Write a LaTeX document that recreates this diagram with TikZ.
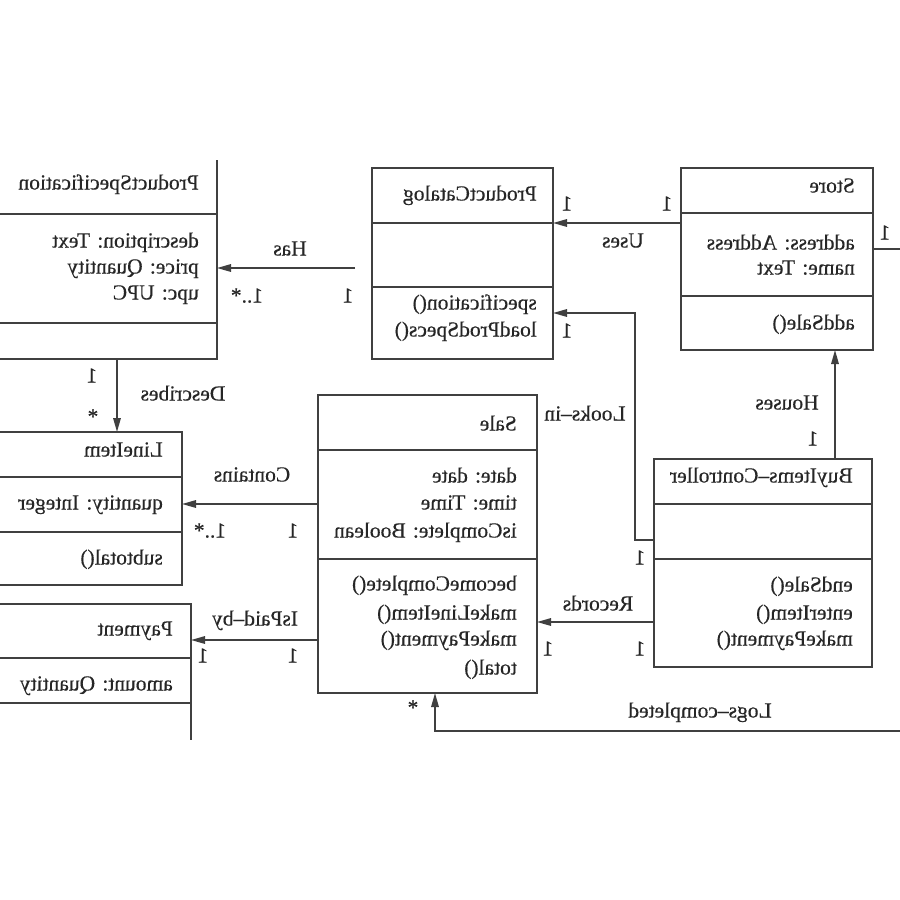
\documentclass[tikz,border=0pt]{standalone}
\usepackage{fontspec}
\usepackage{graphicx}
\setmainfont[FakeBold=0.35]{Liberation Serif}
\usetikzlibrary{arrows.meta}
\newcommand{\rv}[1]{\reflectbox{#1}}
\begin{document}
\begin{tikzpicture}[x=1pt,y=-1pt,
  box/.style={draw=black!75, line width=1.6pt},
  assoc/.style={draw=black!75, line width=1.6pt, -{Triangle[length=14pt,width=7.5pt]}},
  plain/.style={draw=black!75, line width=1.6pt},
  txt/.style={inner sep=0pt, text=black!85, font=\fontsize{21.5}{27}\selectfont,
              text height=0.7em, text depth=0.2em},
  cls/.style={txt, anchor=east},
  lab/.style={txt, anchor=center}]
\clip (0,0) rectangle (900,900);
\fill[white] (0,0) rectangle (900,900);

% ---- ProductSpecification
\draw[box] (-5,214) -- (217,214);
\draw[box] (-5,323) -- (217,323);
\draw[box] (-5,359) -- (217,359) -- (217,160);
\node[cls] (ps) at (199,187) {\rv{ProductSpecification}};
\node[cls] (ps1) at (199,245) {\rv{description: Text}};
\node[cls] (ps2) at (199,271) {\rv{price: Quantity}};
\node[cls] (ps3) at (199,297) {\rv{upc: UPC}};

% ---- ProductCatalog
\draw[box] (372,168) rectangle (553,359);
\draw[box] (372,223) -- (553,223);
\draw[box] (372,287) -- (553,287);
\node[cls] (pc) at (537,198) {\rv{ProductCatalog}};
\node[cls] (pc1) at (537,307) {\rv{specification()}};
\node[cls] (pc2) at (537,334) {\rv{loadProdSpecs()}};

% ---- Store
\draw[box] (681,168) rectangle (873,350);
\draw[box] (681,213) -- (873,213);
\draw[box] (681,296) -- (873,296);
\node[cls] (st) at (855,190) {\rv{Store}};
\node[cls] (st1) at (855,247) {\rv{address: Address}};
\node[cls] (st2) at (855,272) {\rv{name: Text}};
\node[cls] (st3) at (855,327) {\rv{addSale()}};

% ---- Sale
\draw[box] (318,395) rectangle (537,693);
\draw[box] (318,450) -- (537,450);
\draw[box] (318,559) -- (537,559);
\node[cls] (sa) at (517,428) {\rv{Sale}};
\node[cls] (sa1) at (517,480) {\rv{date: date}};
\node[cls] (sa2) at (517,507) {\rv{time: Time}};
\node[cls] (sa3) at (517,535) {\rv{isComplete: Boolean}};
\node[cls] (sa4) at (517,588) {\rv{becomeComplete()}};
\node[cls] (sa5) at (517,617) {\rv{makeLineItem()}};
\node[cls] (sa6) at (517,643) {\rv{makePayment()}};
\node[cls] (sa7) at (517,672) {\rv{total()}};

% ---- BuyItems-Controller
\draw[box] (654,459) rectangle (872,667);
\draw[box] (654,504) -- (872,504);
\draw[box] (654,559) -- (872,559);
\node[cls] (bc) at (853,480) {\rv{BuyItems--Controller}};
\node[cls] (bc1) at (853,589) {\rv{endSale()}};
\node[cls] (bc2) at (853,617) {\rv{enterItem()}};
\node[cls] (bc3) at (853,643) {\rv{makePayment()}};

% ---- LineItem
\draw[box] (-5,432) -- (182,432) -- (182,585) -- (-5,585);
\draw[box] (-5,477) -- (182,477);
\draw[box] (-5,532) -- (182,532);
\node[cls] (li) at (163,454) {\rv{LineItem}};
\node[cls] (li1) at (163,507) {\rv{quantity: Integer}};
\node[cls] (li2) at (163,562) {\rv{subtotal()}};

% ---- Payment
\draw[box] (-5,604) -- (191,604) -- (191,740);
\draw[box] (-5,658) -- (191,658);
\draw[box] (-5,703) -- (191,703);
\node[cls] (pa) at (173,633) {\rv{Payment}};
\node[cls] (pa1) at (173,688) {\rv{amount: Quantity}};

% ---- connector end points on the class outlines
\coordinate (has-a) at (355,268);   \coordinate (has-b) at (217,268);
\coordinate (uses-a) at (681,223);  \coordinate (uses-b) at (553,223);
\coordinate (st-r) at (873,249);    \coordinate (st-out) at (905,249);
\coordinate (look-a) at (654,540);  \coordinate (look-k1) at (635,540);
\coordinate (look-k2) at (635,313); \coordinate (look-b) at (553,313);
\coordinate (hou-a) at (835,459);   \coordinate (hou-b) at (835,350);
\coordinate (rec-a) at (654,622);   \coordinate (rec-b) at (537,622);
\coordinate (con-a) at (318,504);   \coordinate (con-b) at (182,504);
\coordinate (des-a) at (117,359);   \coordinate (des-b) at (117,432);
\coordinate (pay-a) at (318,640);   \coordinate (pay-b) at (191,640);
\coordinate (log-a) at (905,731);   \coordinate (log-k) at (435,731);
\coordinate (log-b) at (435,693);

% ---- associations
\draw[assoc] (has-a) -- (has-b);
\draw[assoc] (uses-a) -- (uses-b);
\draw[plain] (st-r) -- (st-out);
\draw[assoc] (look-a) -- (look-k1) -- (look-k2) -- (look-b);
\draw[assoc] (hou-a) -- (hou-b);
\draw[assoc] (rec-a) -- (rec-b);
\draw[assoc] (con-a) -- (con-b);
\draw[assoc] (des-a) -- (des-b);
\draw[assoc] (pay-a) -- (pay-b);
\draw[assoc] (log-a) -- (log-k) -- (log-b);

% ---- association names and multiplicities
\node[lab] (l-has) at (290,253) {\rv{Has}};
\node[lab] (m-has1) at (247,300) {\rv{1..*}};
\node[lab] (m-has2) at (348,300) {\rv{1}};
\node[lab] (l-uses) at (623,245) {\rv{Uses}};
\node[lab] (m-uses1) at (667,208) {\rv{1}};
\node[lab] (m-uses2) at (567,208) {\rv{1}};
\node[lab] (m-st) at (885,237) {\rv{1}};
\node[lab] (m-look1) at (567,335) {\rv{1}};
\node[lab] (l-look) at (585,418) {\rv{Looks--in}};
\node[lab] (m-look2) at (640,562) {\rv{1}};
\node[lab] (l-hou) at (787,407) {\rv{Houses}};
\node[lab] (m-hou) at (813,443) {\rv{1}};
\node[lab] (l-rec) at (598,608) {\rv{Records}};
\node[lab] (m-rec1) at (548,653) {\rv{1}};
\node[lab] (m-rec2) at (640,653) {\rv{1}};
\node[lab] (l-con) at (252,479) {\rv{Contains}};
\node[lab] (m-con1) at (210,535) {\rv{1..*}};
\node[lab] (m-con2) at (293,535) {\rv{1}};
\node[lab] (l-des) at (183,398) {\rv{Describes}};
\node[lab] (m-des1) at (92,380) {\rv{1}};
\node[lab] (m-des2) at (93,421) {\rv{*}};
\node[lab] (l-pay) at (255,623) {\rv{IsPaid--by}};
\node[lab] (m-pay1) at (203,660) {\rv{1}};
\node[lab] (m-pay2) at (293,660) {\rv{1}};
\node[lab] (l-log) at (700,715) {\rv{Logs--completed}};
\node[lab] (m-log) at (413,712) {\rv{*}};
\end{tikzpicture}
\end{document}
